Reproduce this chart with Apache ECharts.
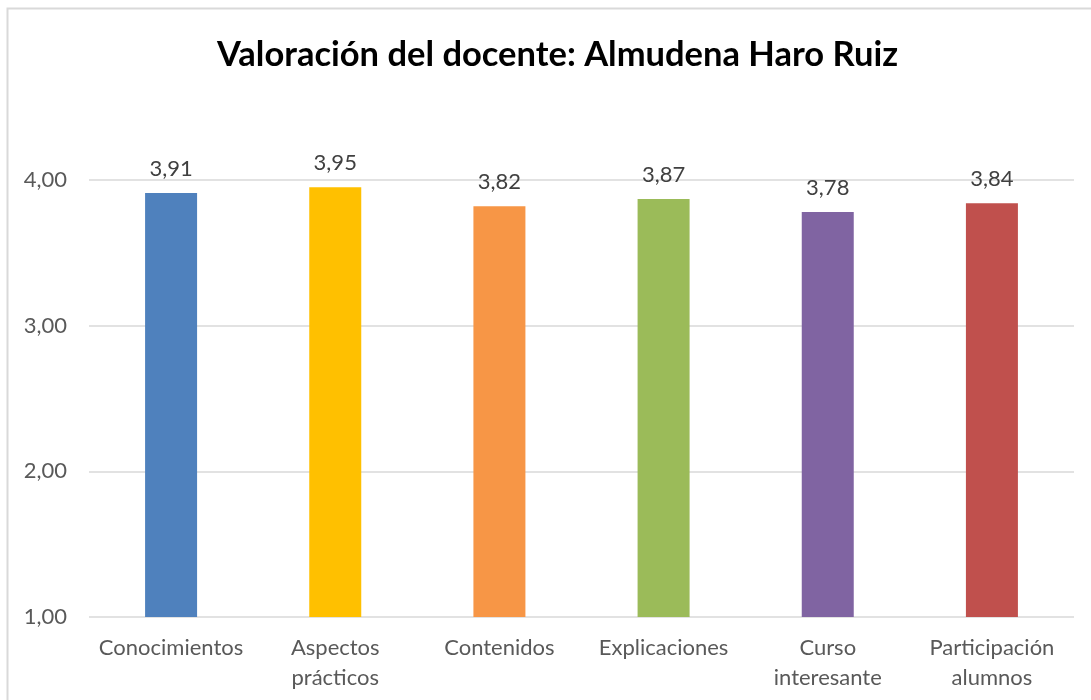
<!DOCTYPE html>
<html>
<head>
<meta charset="utf-8">
<script src="https://cdn.jsdelivr.net/npm/echarts@6/dist/echarts.min.js"></script>
<style>
  html, body { margin: 0; padding: 0; background: #fff; }
  #chart { width: 1091px; height: 700px; }
</style>
</head>
<body>
<div id="chart"></div>
<script>
  const categories = ['Conocimientos', 'Aspectos\nprácticos', 'Contenidos', 'Explicaciones', 'Curso\ninteresante', 'Participación\nalumnos'];
  const values = [3.91, 3.95, 3.82, 3.87, 3.78, 3.84];
  const barColors = ['#4F81BD', '#FFC000', '#F79646', '#9BBB59', '#8064A2', '#C0504D'];
  const fmt = v => v.toFixed(2).replace('.', ',');

  const myChart = echarts.init(document.getElementById('chart'));
  const option = {
    animation: false,
    textStyle: { fontFamily: 'Lato' },
    graphic: [{
      type: 'rect',
      shape: { x: 7.5, y: 8.5, width: 1100, height: 720 },
      style: { fill: 'none', stroke: '#d9d9d9', lineWidth: 2 }
    }],
    title: {
      text: 'Valoración del docente: Almudena Haro Ruiz',
      left: 212,
      top: 32,
      textStyle: { fontSize: 34.5, fontWeight: 'bold', color: '#000', fontFamily: 'Lato' }
    },
    grid: { left: 89, right: 17, top: 180, bottom: 83 },
    xAxis: {
      type: 'category',
      data: categories,
      axisLine: { show: false },
      axisTick: { show: false },
      axisLabel: { color: '#595959', fontSize: 22, margin: 16, lineHeight: 30, interval: 0 }
    },
    yAxis: {
      type: 'value',
      min: 1,
      max: 4,
      interval: 1,
      axisLine: { show: false },
      axisTick: { show: false },
      splitLine: { lineStyle: { color: '#d9d9d9', width: 1.5 } },
      axisLabel: { color: '#595959', fontSize: 22, margin: 22, formatter: fmt }
    },
    series: [{
      type: 'bar',
      barWidth: 52,
      data: values.map((v, i) => ({ value: v, itemStyle: { color: barColors[i] } })),
      label: {
        show: true,
        position: 'top',
        distance: 13,
        color: '#404040',
        fontSize: 22,
        formatter: p => fmt(p.value)
      }
    }]
  };
  myChart.setOption(option);
</script>
</body>
</html>
